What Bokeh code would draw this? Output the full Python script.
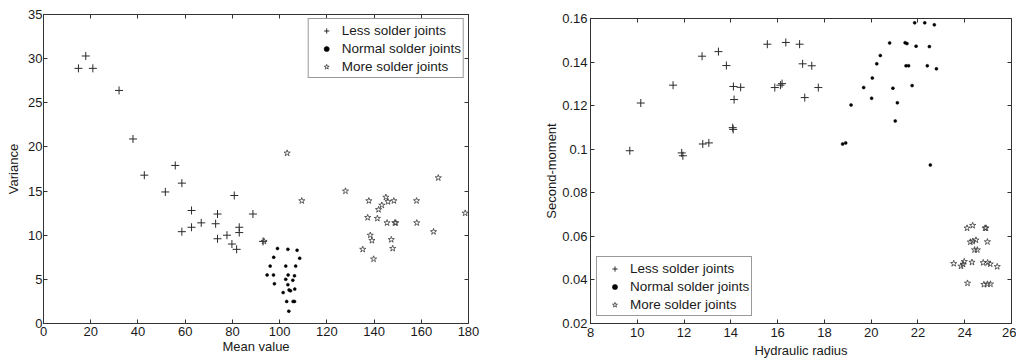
from bokeh.plotting import figure
from bokeh.layouts import row, column
from bokeh.models import LinearAxis, FixedTicker, Range1d, Legend, LegendItem, Spacer
from bokeh.embed import file_html
from bokeh.resources import INLINE

# ---------------- data: left plot (Mean value vs Variance) ----------------
less_x = [14.8, 17.9, 20.9, 32.0, 37.9, 42.7, 55.8, 51.6, 58.6, 62.7, 58.6, 62.7, 66.8,
          72.9, 73.7, 73.7, 77.7, 79.8, 80.8, 81.8, 82.9, 82.9, 88.7, 93.0]
less_y = [28.9, 30.3, 28.9, 26.4, 20.9, 16.8, 17.9, 14.9, 15.9, 12.8, 10.4, 10.9, 11.4,
          11.3, 12.4, 9.6, 10.0, 9.0, 14.5, 8.4, 10.9, 10.3, 12.4, 9.3]

normal_x = [99.1, 103.5, 107.4, 97.5, 108.5, 96.0, 102.6, 106.8, 94.7, 97.4, 103.6, 106.3,
            102.6, 105.6, 97.8, 103.5, 104.0, 104.6, 106.4, 101.5, 103.0, 105.7, 106.3, 103.9]
normal_y = [8.5, 8.4, 8.3, 7.5, 7.4, 6.5, 6.5, 6.5, 5.5, 5.5, 5.5, 5.4,
            5.0, 4.9, 4.5, 4.4, 3.8, 3.7, 3.9, 3.5, 2.5, 2.5, 2.5, 1.4]

more_x = [103.2, 167.2, 109.4, 127.9, 137.8, 145.0, 145.9, 148.4, 158.0, 143.3, 141.9, 137.3,
          141.4, 145.5, 148.8, 149.2, 158.1, 165.2, 138.4, 139.1, 147.3, 135.2, 147.9, 139.8,
          93.4, 178.6]
more_y = [19.3, 16.5, 13.9, 15.0, 13.9, 14.3, 13.8, 13.9, 13.9, 13.4, 12.9, 12.0,
          11.9, 11.4, 11.4, 11.4, 11.4, 10.4, 10.0, 9.4, 9.5, 8.4, 8.5, 7.3,
          9.3, 12.5]

x1_ticks = [0, 20, 40, 60, 80, 100, 120, 140, 160, 180]
y1_ticks = [0, 5, 10, 15, 20, 25, 30, 35]

# ---------------- data: right plot (Hydraulic radius vs Second-moment) ----------------
less2_x = [9.68, 10.15, 11.53, 11.9, 11.95, 12.77, 12.8, 13.06, 13.47, 13.81, 14.11, 14.42,
           14.14, 14.08, 14.1, 15.56, 16.35, 16.94, 17.07, 17.46, 15.88, 16.12, 16.19, 17.74, 17.16]
less2_y = [0.0993, 0.1212, 0.1294, 0.0983, 0.0970, 0.1427, 0.1024, 0.1029, 0.1448, 0.1384,
           0.1288, 0.1284, 0.1228, 0.1099, 0.1091, 0.1482, 0.1490, 0.1482, 0.1392, 0.1383,
           0.1283, 0.1294, 0.1301, 0.1283, 0.1237]

normal2_x = [21.86, 22.29, 22.7, 20.79, 21.45, 21.53, 21.92, 22.49, 20.39, 20.24, 21.49, 21.6,
             22.4, 22.79, 20.05, 19.68, 20.93, 21.75, 20.02, 19.14, 21.12, 21.03, 18.78, 18.91, 22.53]
normal2_y = [0.1580, 0.1580, 0.1571, 0.1488, 0.1489, 0.1485, 0.1473, 0.1471, 0.1430, 0.1392,
             0.1383, 0.1383, 0.1383, 0.1369, 0.1327, 0.1283, 0.1280, 0.1292, 0.1234, 0.1203,
             0.1213, 0.1130, 0.1024, 0.1029, 0.0928]

more2_x = [24.1, 24.34, 24.87, 24.91, 24.24, 24.34, 24.48, 24.97, 24.42, 24.54, 23.53, 23.84,
           23.93, 23.98, 24.31, 24.79, 24.98, 25.09, 25.39, 24.12, 24.82, 24.97, 25.1]
more2_y = [0.0638, 0.0650, 0.0638, 0.0638, 0.0574, 0.0577, 0.0583, 0.0575, 0.0538, 0.0538,
           0.0475, 0.0463, 0.0472, 0.0484, 0.0481, 0.0479, 0.0479, 0.0473, 0.0461, 0.0385,
           0.0379, 0.0381, 0.0381]

x2_ticks = [8, 10, 12, 14, 16, 18, 20, 22, 24, 26]
y2_ticks = [0.02, 0.04, 0.06, 0.08, 0.1, 0.12, 0.14, 0.16]
y2_labels = ["0.02", "0.04", "0.06", "0.08", "0.1", "0.12", "0.14", "0.16"]

series_names = ["Less solder joints", "Normal solder joints", "More solder joints"]

FONT = "Liberation Sans"
AX = "#333333"
MK = "#2a2a2a"


def style(p, xticks, yticks):
    """Returns (bottom_axis, left_axis) after adding mirrored top/right tick axes."""
    p.outline_line_color = AX
    p.outline_line_width = 1
    p.grid.visible = False
    bottom = p.below[0]
    left = p.left[0]
    bottom.ticker = FixedTicker(ticks=xticks)
    left.ticker = FixedTicker(ticks=yticks)
    top = LinearAxis(ticker=FixedTicker(ticks=xticks))
    right = LinearAxis(ticker=FixedTicker(ticks=yticks))
    for ax in (top, right):
        ax.major_label_text_font_size = "0px"
        ax.major_label_text_color = None
        ax.major_label_standoff = 0
    p.add_layout(top, "above")
    p.add_layout(right, "right")
    for ax in (bottom, left, top, right):
        ax.major_tick_in = 4
        ax.major_tick_out = 0
        ax.minor_tick_line_color = None
        ax.axis_line_color = AX
        ax.major_tick_line_color = AX
    for ax in (bottom, left):
        ax.major_label_text_font = FONT
        ax.major_label_text_color = "#1a1a1a"
        ax.major_label_text_font_size = "13px"
        ax.axis_label_text_font = FONT
        ax.axis_label_text_font_style = "normal"
        ax.axis_label_text_color = "#1a1a1a"
        ax.axis_label_text_font_size = "13px"
    return bottom, left


def add_series(p, xs_list, ys_list):
    r1 = p.scatter(xs_list[0], ys_list[0], marker="cross", size=8, line_color=MK, line_width=1)
    r2 = p.scatter(xs_list[1], ys_list[1], marker="circle", size=3, fill_color="black",
                   line_color="black", line_width=0.5)
    r3 = p.scatter(xs_list[2], ys_list[2], marker="star", size=6.5, fill_color=None,
                   line_color="#3a3a3a", line_width=0.8)
    return [r1, r2, r3]


def make_legend(renderers, location, margin):
    leg = Legend(items=[LegendItem(label=n, renderers=[r]) for n, r in zip(series_names, renderers)],
                 location=location, margin=margin)
    leg.label_text_font = FONT
    leg.label_text_font_size = "13.5px"
    leg.label_text_color = "#1a1a1a"
    leg.border_line_color = AX
    leg.border_line_width = 1
    leg.background_fill_color = "white"
    leg.background_fill_alpha = 1
    leg.padding = 2
    leg.spacing = 0
    leg.glyph_width = 31
    leg.glyph_height = 13
    leg.label_height = 18
    leg.label_standoff = 0
    return leg


# ---------------- left figure ----------------
p1 = figure(width=540, height=363, output_backend="svg", toolbar_location=None,
            x_range=Range1d(0, 180), y_range=Range1d(0, 35),
            min_border_left=43, min_border_right=72, min_border_top=14, min_border_bottom=40)
p1.background_fill_color = "white"
p1.border_fill_color = "white"
b1, l1 = style(p1, x1_ticks, y1_ticks)
b1.axis_label = "Mean value"
l1.axis_label = "Variance"
b1.major_label_standoff = 3
b1.axis_label_standoff = 0
l1.major_label_standoff = 1
l1.axis_label_standoff = 4
r_left = add_series(p1, [less_x, normal_x, more_x], [less_y, normal_y, more_y])
p1.add_layout(make_legend(r_left, "top_right", 4))

# ---------------- right figure ----------------
p2 = figure(width=476, height=359, output_backend="svg", toolbar_location=None,
            x_range=Range1d(8, 26), y_range=Range1d(0.02, 0.16),
            min_border_left=50, min_border_right=5, min_border_top=14, min_border_bottom=40)
p2.background_fill_color = "white"
p2.border_fill_color = "white"
b2, l2 = style(p2, x2_ticks, y2_ticks)
l2.major_label_overrides = {t: s for t, s in zip(y2_ticks, y2_labels)}
b2.axis_label = "Hydraulic radius"
l2.axis_label = "Second-moment"
b2.major_label_standoff = 4
b2.axis_label_standoff = 3
l2.major_label_standoff = 3
l2.axis_label_standoff = 0
r_right = add_series(p2, [less2_x, normal2_x, more2_x], [less2_y, normal2_y, more2_y])
p2.add_layout(make_legend(r_right, (6, 7), 0))

layout = row(p1, column(Spacer(width=476, height=4), p2, spacing=0), spacing=0)
open("out.html", "w").write(file_html(layout, INLINE))
